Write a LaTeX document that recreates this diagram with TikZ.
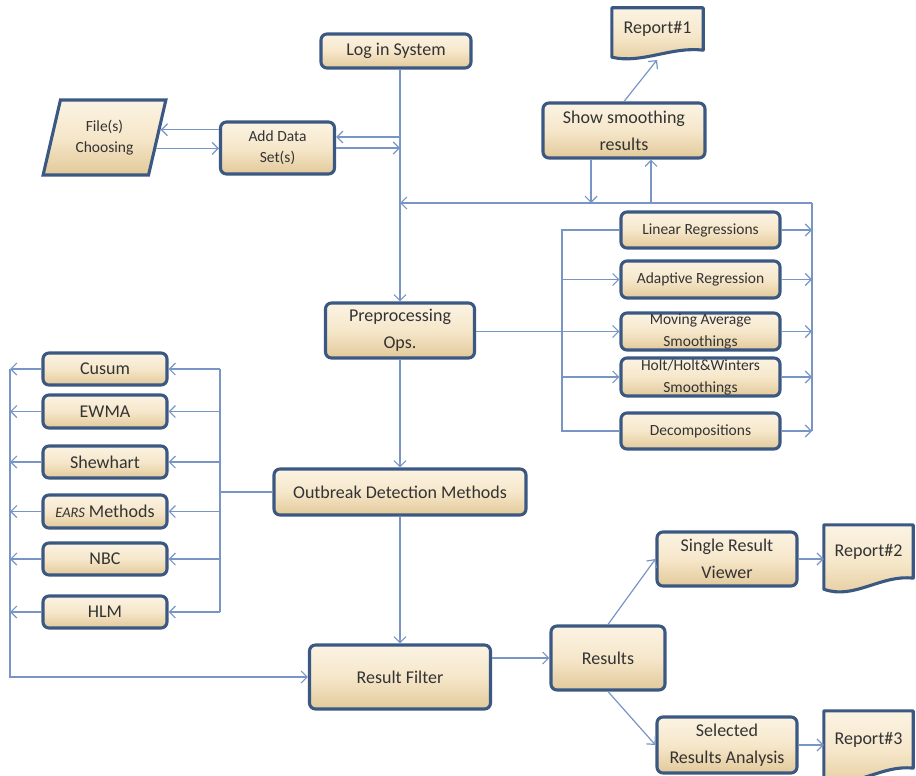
\documentclass[tikz,border=0pt]{standalone}
\usepackage{fontspec}
\setmainfont{Carlito}
\usetikzlibrary{arrows.meta,shapes.geometric,calc}
\definecolor{boxblue}{HTML}{3A5882}
\definecolor{linec}{HTML}{7895C6}
\definecolor{ctop}{HTML}{FBF3E3}
\definecolor{cmid}{HTML}{F6E7CA}
\definecolor{cbot}{HTML}{E2C99A}
\definecolor{txt}{HTML}{333333}
\newcommand\fbig{\fontsize{18}{27}\selectfont}
\newcommand\fsml{\fontsize{15.5}{21}\selectfont}
\newcommand\fsmlt{\fontsize{15.5}{22}\selectfont}
\pgfdeclarelayer{bg}
\pgfsetlayers{bg,main}
\newcommand\docshape[2]{%
  \begin{pgfonlayer}{bg}
  \shade[docfill] (#1.north west) -- (#1.north east) -- (#1.south east)
    .. controls ($(#1.south east)+(-32,-4)$) and ($(#1.south west)+(30,2*#2)$) ..
    ($(#1.south west)+(0,#2)$) -- cycle;
  \end{pgfonlayer}}
\begin{document}
\begin{tikzpicture}[x=1pt,y=-1pt,
  sz/.style 2 args={minimum width=#1pt, minimum height=#2pt},
  box/.style={draw=boxblue, line width=3.1pt, rounded corners=6pt,
    top color=ctop, bottom color=cbot, middle color=cmid,
    inner sep=0pt, align=center, text=txt, font=\fbig},
  docnode/.style={inner sep=0pt, align=center, text=txt, font=\fbig},
  docfill/.style={draw=boxblue, line width=3.1pt, line join=round,
    top color=ctop, bottom color=cbot, middle color=cmid},
  line/.style={draw=linec, line width=1.2pt},
  conn/.style={line, -{Straight Barb[length=6pt,width=12pt]}}
]
\useasboundingbox (0,0) rectangle (916,776);

% ---------- nodes ----------
\node[box, sz={150}{34}] (login) at (396,51) {Log in System};
\node[box, font=\fsml, sz={114}{52}] (adddata) at (277.5,148) {Add Data\\Set(s)};
\node[box, font=\fsml, trapezium, rounded corners=0pt, trapezium left angle=72,
  trapezium right angle=108, trapezium stretches=true, sz={123}{75}]
  (file) at (104.5,137.5) {File(s)\\Choosing};
\node[box, sz={162}{55}] (showsm) at (624,130.5) {Show smoothing\\results};
\node[docnode, sz={91}{42}] (rep1) at (657.5,29) {Report\#1};
\docshape{rep1}{7}

\node[box, font=\fsml, sz={159}{36}] (linreg) at (700.5,230) {Linear Regressions};
\node[box, font=\fsml, sz={159}{37}] (adapt) at (700.5,279.5) {Adaptive Regression};
\node[box, font=\fsmlt, sz={159}{37}] (movavg) at (700.5,331.5) {Moving Average\\Smoothings};
\node[box, font=\fsmlt, sz={159}{38}] (holt) at (700.5,377) {Holt/Holt\&Winters\\Smoothings};
\node[box, font=\fsml, sz={159}{36}] (decomp) at (700.5,431) {Decompositions};

\node[box, sz={149}{55}] (preproc) at (400,330.5) {Preprocessing\\Ops.};
\node[box, sz={252}{46}] (outbreak) at (400,492) {Outbreak Detection Methods};

\node[box, sz={124}{32}] (cusum) at (105,369) {Cusum};
\node[box, sz={124}{33}] (ewma) at (105,411.5) {EWMA};
\node[box, sz={124}{32}] (shew) at (105,462) {Shewhart};
\node[box, sz={124}{33}] (ears) at (105,511.5) {{\fontsize{14.5}{14}\selectfont\itshape EARS} Methods};
\node[box, sz={124}{32}] (nbc) at (105,559) {NBC};
\node[box, sz={124}{32}] (hlm) at (105,612) {HLM};

\node[box, sz={181}{64}] (filter) at (400,677) {Result Filter};
\node[box, sz={114}{64}] (results) at (608,658) {Results};
\node[box, sz={140}{54}] (single) at (727,559) {Single Result\\Viewer};
\node[box, sz={140}{56}] (selected) at (727,745) {Selected\\Results Analysis};
\node[docnode, sz={89}{53}] (rep2) at (868.5,551.5) {Report\#2};
\docshape{rep2}{11}
\node[docnode, sz={89}{57}] (rep3) at (868.5,739.5) {Report\#3};
\docshape{rep3}{11}

% ---------- helper coordinates ----------
\coordinate (tx) at (400,0);
\coordinate (ja) at (400,137);
\coordinate (jb) at (400,148);
\coordinate (rb) at (812,203);
\coordinate (sdx) at (591,0);
\coordinate (sux) at (651,0);
\coordinate (sbx) at (562,0);
\coordinate (mbx) at (220,0);
\coordinate (lbx) at (10,0);
\coordinate (r1tip) at (657,60);
\coordinate (pA) at ($(file.top right corner)!0.4!(file.bottom right corner)$);
\coordinate (pB) at ($(file.top right corner)!0.64!(file.bottom right corner)$);

% ---------- connectors ----------
\draw[conn] (login.south -| tx) -- (preproc.north);
\draw[conn] (ja) -- (adddata.east |- ja);
\draw[conn] (adddata.east |- jb) -- (jb);
\draw[conn] (adddata.west |- pA) -- (pA);
\draw[conn] (pB) -- (adddata.west |- pB);

\draw[conn] (showsm.north) -- (r1tip);
\draw[conn] (showsm.south -| sdx) -- (sdx |- rb);
\draw[conn] (sux |- rb) -- (showsm.south -| sux);
\draw[line] (rb) -- (decomp.east -| rb);
\draw[conn] (rb) -- (rb -| tx);

\draw[line] (linreg.west) -- (linreg.west -| sbx) -- (decomp.west -| sbx) -- (decomp.west);
\draw[conn] (adapt.west -| sbx) -- (adapt.west);
\draw[conn] (holt.west -| sbx) -- (holt.west);
\draw[conn] (preproc.east |- movavg.west) -- (movavg.west);
\foreach \n in {linreg,adapt,movavg,holt,decomp}
  \draw[conn] (\n.east) -- (\n.east -| rb);

\draw[conn] (preproc.south) -- (outbreak.north);
\draw[conn] (outbreak.south) -- (filter.north);

\draw[line] (outbreak.west) -- (outbreak.west -| mbx);
\draw[line] (cusum.east -| mbx) -- (hlm.east -| mbx);
\foreach \n in {cusum,ewma,shew,ears,nbc,hlm} {
  \draw[conn] (\n.east -| mbx) -- (\n.east);
  \draw[conn] (\n.west) -- (\n.west -| lbx);
}
\draw[conn] (cusum.west -| lbx) -- (filter.west -| lbx) -- (filter.west);

\draw[conn] (filter.east |- results.west) -- (results.west);
\draw[conn] (results.north) -- (single.west);
\draw[conn] (results.south) -- (selected.west);
\draw[conn] (single.east) -- (single.east -| rep2.west);
\draw[conn] (selected.east) -- (selected.east -| rep3.west);
\end{tikzpicture}
\end{document}
